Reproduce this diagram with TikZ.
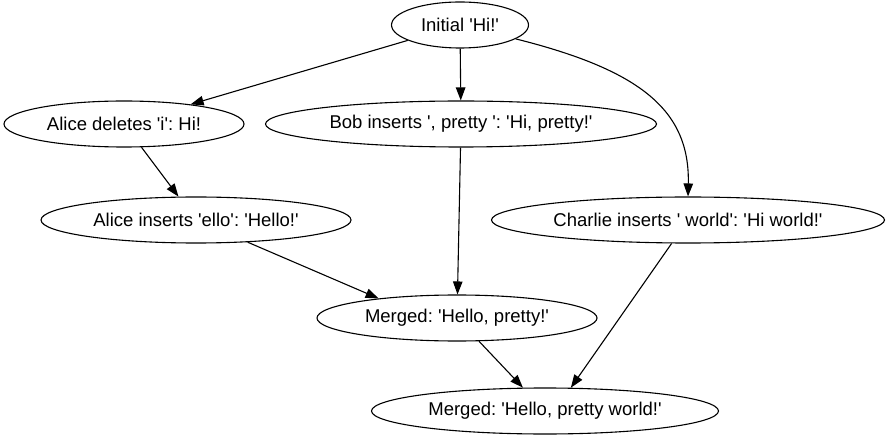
\documentclass[tikz,border=0pt]{standalone}
\usepackage{fontspec}
\setmainfont{Liberation Sans}[Ligatures=TeXOff]
\usetikzlibrary{shapes.geometric,arrows.meta}
\tikzset{
  st/.style={draw, ellipse, inner sep=0pt, line width=1.1pt, minimum height=46pt,
    font=\fontsize{18.5}{22}\selectfont},
  ed/.style={line width=1.1pt, -{Triangle[length=13pt,width=9.5pt]}}
}
\frenchspacing
\begin{document}
\frenchspacing
\begin{tikzpicture}[x=1pt,y=-1pt]
\useasboundingbox (0,0) rectangle (893,443);
\node[st, minimum width=137pt] (ini) at (460,25) {Initial 'Hi!'};
\node[st, minimum width=240pt] (ad) at (124,124) {Alice deletes 'i': Hi!};
\node[st, minimum width=391pt] (bob) at (461,124) {Bob inserts ', pretty ': 'Hi, pretty!'};
\node[st, minimum width=310pt] (ai) at (196,220) {Alice inserts 'ello': 'Hello!'};
\node[st, minimum width=393pt] (cha) at (688,220) {Charlie inserts ' world': 'Hi world!'};
\node[st, minimum width=280pt] (m1) at (457,318) {Merged: 'Hello, pretty!'};
\node[st, minimum width=347pt] (m2) at (545,411) {Merged: 'Hello, pretty world!'};
\draw[ed] (ini) -- (ad);
\draw[ed] (ini) -- (bob);
\draw[ed] (ini.-14) .. controls (640,70) and (690,110) .. (cha.north);
\draw[ed] (ad) -- (ai);
\draw[ed] (bob) -- (m1);
\draw[ed] (ai) -- (m1.166);
\draw[ed] (cha) -- (m2.42);
\draw[ed] (m1) -- (m2);
\end{tikzpicture}
\end{document}
